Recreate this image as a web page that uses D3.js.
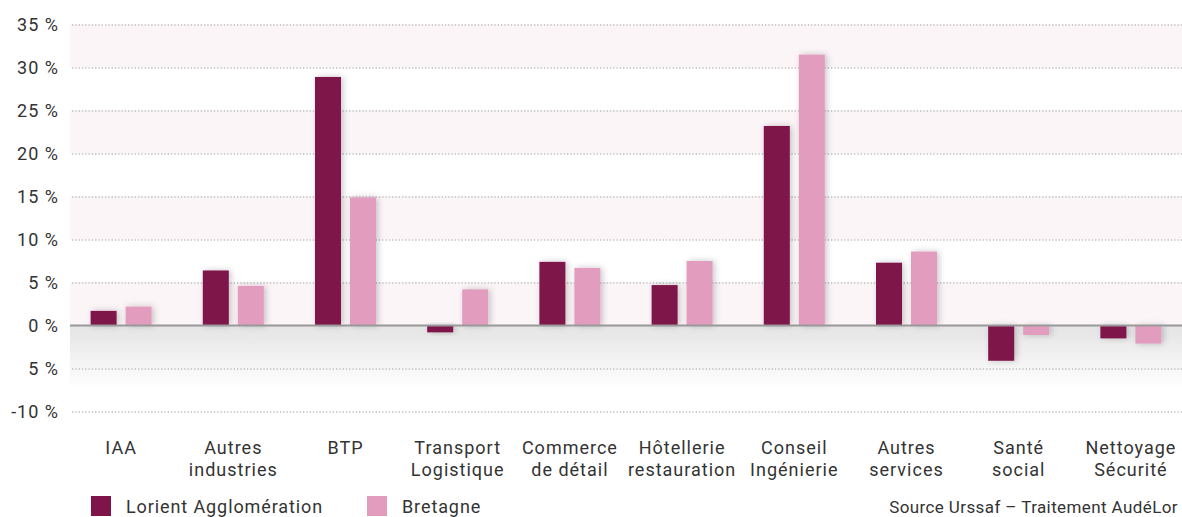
<!DOCTYPE html>
<html>
<head>
<meta charset="utf-8">
<script src="https://cdn.jsdelivr.net/npm/d3@7"></script>
<style>
  body { margin: 0; background: #fff; }
  text { font-family: Roboto, "DejaVu Sans", sans-serif; fill: #333; }
</style>
</head>
<body>
<svg width="1182" height="517"></svg>
<script>
// data
var categories = [
  ["IAA"], ["Autres", "industries"], ["BTP"], ["Transport", "Logistique"],
  ["Commerce", "de détail"], ["Hôtellerie", "restauration"], ["Conseil", "Ingénierie"],
  ["Autres", "services"], ["Santé", "social"], ["Nettoyage", "Sécurité"]
];
var seriesNames = ["Lorient Agglomération", "Bretagne"];
var lorient  = [1.7, 6.4, 28.9, -0.8, 7.4, 4.7, 23.2, 7.3, -4.1, -1.5];
var bretagne = [2.2, 4.6, 14.9, 4.2, 6.7, 7.5, 31.5, 8.6, -1.1, -2.1];
var tickValues = [35, 30, 25, 20, 15, 10, 5, 0, -5, -10];
var tickLabels = ["35 %", "30 %", "25 %", "20 %", "15 %", "10 %", "5 %", "0 %", "5 %", "-10 %"];
var colors = ["#7e1449", "#e29cbd"];

var svg = d3.select("svg"),
    left = 70, right = 1182;

var catKeys = categories.map(function(d) { return d.join(" "); });

var x = d3.scaleBand().domain(catKeys).range([65, 1187]);
var xs = d3.scaleBand().domain(seriesNames).range([0, 61]).paddingInner(0.257);
var y = d3.scaleLinear().domain([-10, 35]).range([411.5, 24.5]);

var defs = svg.append("defs");
var grad = defs.append("linearGradient").attr("id", "neg").attr("x1", 0).attr("y1", 0).attr("x2", 0).attr("y2", 1);
grad.append("stop").attr("offset", "0%").attr("stop-color", "#e4e4e4");
grad.append("stop").attr("offset", "100%").attr("stop-color", "#ffffff");
var shadow = defs.append("filter").attr("id", "shadow")
  .attr("x", "-50%").attr("y", "-50%").attr("width", "200%").attr("height", "200%");
shadow.append("feDropShadow").attr("dx", 2).attr("dy", 0).attr("stdDeviation", 3)
  .attr("flood-color", "#000").attr("flood-opacity", 0.22);

// pink bands
[[35, 30], [25, 20], [15, 10], [5, 0]].forEach(function(b) {
  svg.append("rect")
    .attr("x", left).attr("y", y(b[0]))
    .attr("width", right - left).attr("height", y(b[1]) - y(b[0]))
    .attr("fill", "#fcf5f8");
});
// grey fade below zero
svg.append("rect")
  .attr("x", left).attr("y", y(0))
  .attr("width", right - left).attr("height", y(-7.3) - y(0))
  .attr("fill", "url(#neg)");

// y axis + dotted grid
var yaxis = d3.axisLeft(y).tickValues(tickValues)
  .tickFormat(function(d, i) { return tickLabels[i]; })
  .tickSize(0).tickPadding(11);

var gy = svg.append("g").attr("transform", "translate(" + left + ",0)").call(yaxis);
gy.select(".domain").remove();
gy.selectAll("text").style("font-size", "18px").style("letter-spacing", "1px").style("fill", "#333");
gy.selectAll(".tick").filter(function(d) { return d !== 0; })
  .append("line")
  .attr("x1", 2).attr("x2", right - left)
  .attr("stroke", "#bdbdbd").attr("stroke-width", 1.3)
  .attr("stroke-dasharray", "1.3,2");

// bars
var groups = svg.selectAll("g.cat")
  .data(catKeys)
  .enter().append("g")
  .attr("class", "cat")
  .attr("transform", function(d) { return "translate(" + (x(d) + (x.bandwidth() - 61) / 2) + ",0)"; });

groups.selectAll("rect")
  .data(function(d, i) { return [lorient[i], bretagne[i]].map(function(v, j) { return {s: seriesNames[j], v: v, j: j}; }); })
  .enter().append("rect")
  .attr("x", function(d) { return xs(d.s); })
  .attr("y", function(d) { return y(Math.max(0, d.v)); })
  .attr("width", xs.bandwidth())
  .attr("height", function(d) { return Math.abs(y(d.v) - y(0)); })
  .attr("fill", function(d) { return colors[d.j]; })
  .attr("filter", "url(#shadow)");

// zero line
svg.append("line")
  .attr("x1", left).attr("x2", right)
  .attr("y1", y(0)).attr("y2", y(0))
  .attr("stroke", "#999").attr("stroke-width", 2);

// category labels
var lab = svg.selectAll("text.cat")
  .data(categories)
  .enter().append("text")
  .attr("class", "cat")
  .attr("text-anchor", "middle")
  .style("font-size", "18px").style("letter-spacing", "1px")
  .attr("transform", function(d, i) { return "translate(" + (x(catKeys[i]) + x.bandwidth() / 2) + ",454)"; });
lab.selectAll("tspan")
  .data(function(d) { return d; })
  .enter().append("tspan")
  .attr("x", 0)
  .attr("y", function(d, i) { return i * 22; })
  .text(function(d) { return d; });

// legend
var legX = [91, 367];
seriesNames.forEach(function(n, i) {
  svg.append("rect").attr("x", legX[i]).attr("y", 496).attr("width", 20).attr("height", 20).attr("fill", colors[i]);
  svg.append("text").attr("x", legX[i] + 35).attr("y", 513)
    .style("font-size", "18px").style("letter-spacing", "0.9px").text(n);
});
svg.append("text").attr("x", 1178).attr("y", 513).attr("text-anchor", "end")
  .style("font-size", "17px").style("letter-spacing", "0.4px").text("Source Urssaf – Traitement AudéLor");
</script>
</body>
</html>
